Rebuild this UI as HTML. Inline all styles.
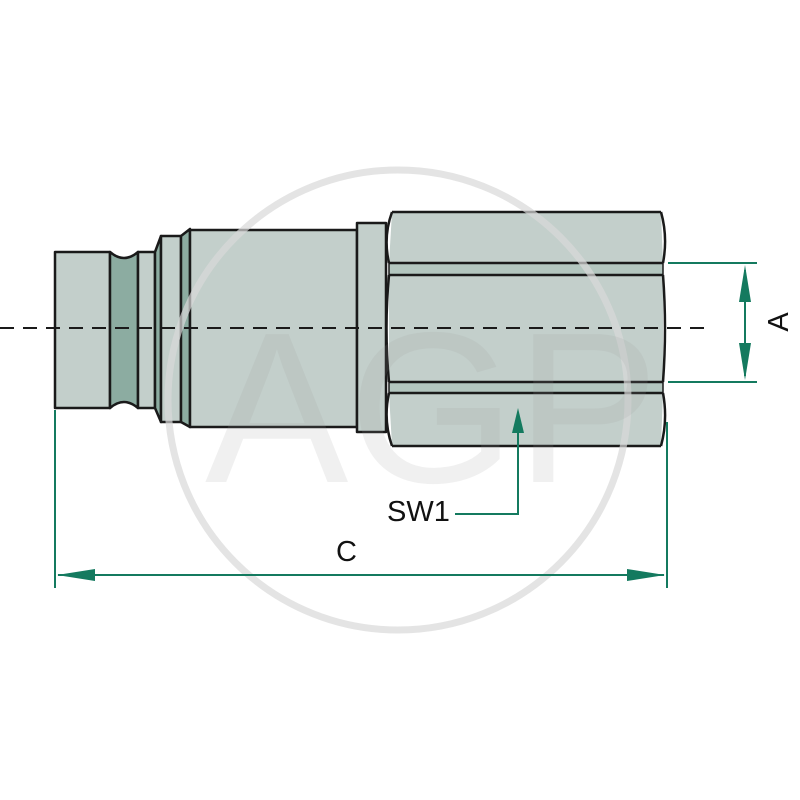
<!DOCTYPE html>
<html><head><style>body{margin:0;background:#fff}svg{display:block}</style></head>
<body>
<svg width="800" height="800" viewBox="0 0 800 800" xmlns="http://www.w3.org/2000/svg" font-family="Liberation Sans, sans-serif">
<g stroke="#1a1a1a" stroke-width="2.5" stroke-linejoin="round">
  <rect x="55" y="252" width="55" height="156" fill="#c3cfcb"/>
  <path d="M110 252 Q124 264 138 252 L138 408 Q124 396 110 408 Z" fill="#8caca1"/>
  <rect x="138" y="252" width="17" height="156" fill="#c3cfcb"/>
  <path d="M155 252 L161 236 L161 422 L155 408 Z" fill="#8caca1"/>
  <rect x="161" y="236" width="20" height="186" fill="#c3cfcb"/>
  <path d="M181 236 L190 229 L190 427 L181 422 Z" fill="#8caca1"/>
  <rect x="190" y="230" width="167" height="197" fill="#c3cfcb"/>
  <rect x="357" y="223" width="29" height="209" fill="#c3cfcb"/>
  <!-- hex -->
  <path d="M392 212 L661 212 L663 263 L663 393 L661 446 L392 446 L389 393 L389 263 Z" fill="#c3cfcb" stroke="none"/>
  <rect x="389" y="263" width="274" height="12" fill="#b3c6bf" stroke="none"/>
  <rect x="389" y="382" width="274" height="11" fill="#b3c6bf" stroke="none"/>
  <path d="M392 212 L661 212 M392 446 L661 446 M389 263 L663 263 M389 275 L663 275 M389 382 L663 382 M389 393 L663 393" fill="none"/>
  <path d="M392 212 Q383 237 389 263 M389 275 Q384 328 389 382 M389 393 Q383 420 392 446" fill="none"/>
  <path d="M661 212 Q668 237 663 263 M663 275 Q667 328 663 382 M663 393 Q668 420 661 446" fill="none"/>
  <path d="M389 263 L389 275 M389 382 L389 393 M663 263 L663 275 M663 382 L663 393" fill="none" stroke-width="1.5"/>
</g>
<!-- watermark -->
<circle cx="398" cy="400" r="230" fill="none" stroke="#d8d8d8" stroke-opacity="0.7" stroke-width="7"/>
<text x="205" y="482" font-size="215" fill="#9a9a9a" fill-opacity="0.15">AGP</text>
<line x1="0" y1="328" x2="705" y2="328" stroke="#1a1a1a" stroke-width="2" stroke-dasharray="14,9"/>
<g stroke="#147a5f" stroke-width="2" fill="#147a5f">
  <line x1="668" y1="263" x2="757" y2="263"/>
  <line x1="668" y1="382" x2="757" y2="382"/>
  <line x1="745" y1="270" x2="745" y2="376"/>
  <path d="M745 265 L739 302 L751 302 Z" stroke="none"/>
  <path d="M745 380 L739 343 L751 343 Z" stroke="none"/>
  <line x1="55" y1="410" x2="55" y2="588"/>
  <line x1="667" y1="422" x2="667" y2="588"/>
  <line x1="58" y1="575" x2="664" y2="575"/>
  <path d="M57 575 L95 569 L95 581 Z" stroke="none"/>
  <path d="M665 575 L627 569 L627 581 Z" stroke="none"/>
  <polyline points="455,514 518,514 518,420" fill="none"/>
  <path d="M518 408 L512 433 L524 433 Z" stroke="none"/>
</g>
<text x="387" y="521" font-size="29" fill="#111">SW1</text>
<text x="336" y="561" font-size="29" fill="#111">C</text>
<text transform="translate(788,322) rotate(-90)" text-anchor="middle" font-size="29" fill="#111">A</text>
</svg>
</body></html>
